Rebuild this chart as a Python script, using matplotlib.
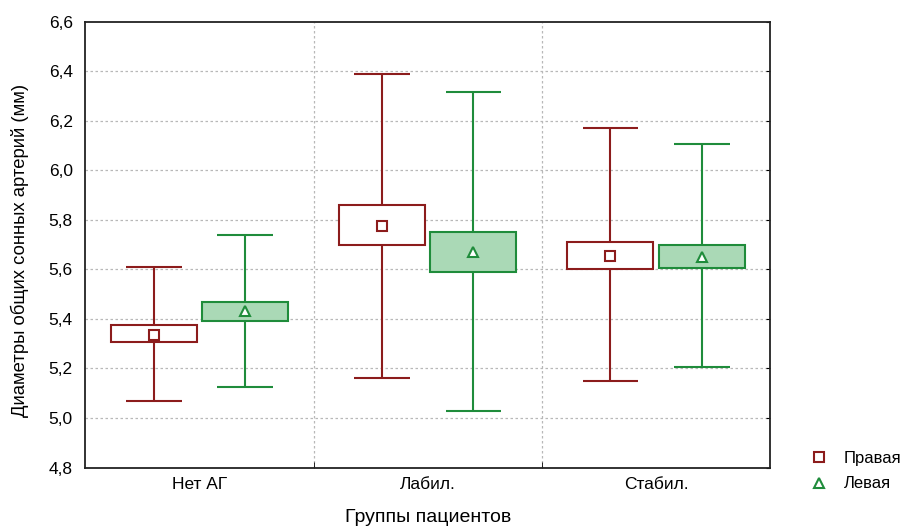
import matplotlib
matplotlib.use('Agg')
import matplotlib.pyplot as plt
import numpy as np

plt.rcParams['font.family'] = ['Liberation Sans', 'DejaVu Sans']

groups = ['Нет АГ', 'Лабил.', 'Стабил.']

# правая (right artery)
right_mean = [5.337, 5.776, 5.653]
right_box_lo = [5.306, 5.699, 5.603]
right_box_hi = [5.376, 5.859, 5.710]
right_wh_lo = [5.070, 5.163, 5.151]
right_wh_hi = [5.611, 6.390, 6.169]

# левая (left artery)
left_mean = [5.432, 5.672, 5.650]
left_box_lo = [5.392, 5.589, 5.604]
left_box_hi = [5.470, 5.752, 5.700]
left_wh_lo = [5.127, 5.029, 5.205]
left_wh_hi = [5.737, 6.314, 6.106]

red = '#8c1c1c'
green = '#1f8c3b'
green_fill = '#aad9b6'

fig = plt.figure(figsize=(9.12, 5.26), dpi=100)
ax = fig.add_axes([0.0935, 0.111, 0.751, 0.848])

x = np.arange(1, len(groups) + 1)
off = 0.2
bw = 0.376
cw = 0.244


def draw(xs, mean, blo, bhi, wlo, whi, ec, fc, marker, label):
    xs = np.asarray(xs)
    blo = np.asarray(blo)
    bhi = np.asarray(bhi)
    ax.vlines(xs, wlo, blo, color=ec, lw=1.5, zorder=3)
    ax.vlines(xs, bhi, whi, color=ec, lw=1.5, zorder=3)
    ax.hlines(wlo, xs - cw / 2, xs + cw / 2, color=ec, lw=1.5, zorder=3)
    ax.hlines(whi, xs - cw / 2, xs + cw / 2, color=ec, lw=1.5, zorder=3)
    ax.bar(xs, bhi - blo, bottom=blo, width=bw, facecolor=fc,
           edgecolor=ec, lw=1.5, zorder=3)
    ax.plot(xs, mean, ls='none', marker=marker, ms=7, mfc='white',
            mec=ec, mew=1.5, zorder=4, label=label)


draw(x - off, right_mean, right_box_lo, right_box_hi, right_wh_lo, right_wh_hi,
     red, 'white', 's', 'Правая')
draw(x + off, left_mean, left_box_lo, left_box_hi, left_wh_lo, left_wh_hi,
     green, green_fill, '^', 'Левая')

ax.set_xlim(0.5, 3.5)
ax.set_ylim(4.8, 6.6)
yt = np.arange(4.8, 6.61, 0.2)
ax.set_yticks(yt)
ax.set_yticklabels([('%.1f' % v).replace('.', ',') for v in yt], fontsize=12.5)
ax.set_xticks(x)
ax.set_xticklabels(groups, fontsize=12.5)
ax.tick_params(axis='x', length=0, pad=7)
ax.tick_params(axis='y', direction='in', length=3, right=True, left=False, pad=9)
ax.set_xticks([1.5, 2.5], minor=True)
ax.tick_params(axis='x', which='minor', direction='in', length=4, bottom=True)

for v in yt[1:-1]:
    ax.axhline(v, color='#b8b8b8', ls=(0, (2, 2)), lw=0.9, zorder=1)
for v in [1.5, 2.5]:
    ax.axvline(v, color='#b8b8b8', ls=(0, (2, 2)), lw=0.9, zorder=1)

for s in ax.spines.values():
    s.set_linewidth(1.3)
    s.set_color('#222222')

ax.set_ylabel('Диаметры общих сонных артерий (мм)', fontsize=13.3)
ax.yaxis.set_label_coords(-0.082, 0.488)
ax.set_xlabel('Группы пациентов', fontsize=14, labelpad=12)

fig.legend(loc='lower left', bbox_to_anchor=(0.880, 0.05), frameon=False,
           fontsize=12, handletextpad=0.95, labelspacing=0.65, borderpad=0,
           handlelength=1.0)

fig.savefig('out.png', dpi=100)
